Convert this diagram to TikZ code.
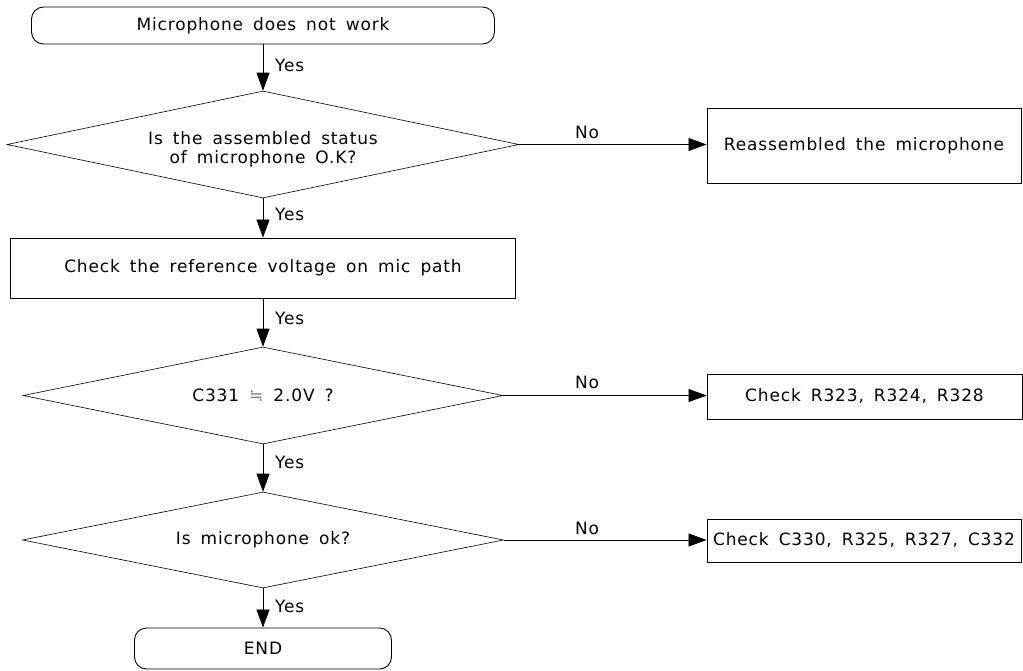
\documentclass[tikz,border=0pt]{standalone}
\usepackage{fontspec}
\setmainfont{DejaVu Sans}[LetterSpace=5,WordSpace=1.6]
\usetikzlibrary{shapes.geometric,arrows.meta}
\begin{document}
\begin{tikzpicture}[x=1pt,y=-1pt,
 every node/.style={font=\fontsize{17}{18}\selectfont},
 box/.style={draw,line width=0.9pt,inner sep=0pt,align=center},
 term/.style={box,rounded corners=12pt},
 dec/.style={draw,line width=0.6pt,shape=diamond,aspect=5,inner sep=0pt,align=center},
 arr/.style={line width=0.8pt,-{Triangle[length=18pt,width=13pt]}},
 lbl/.style={inner sep=0pt}]
\useasboundingbox (0,0) rectangle (1023,670);
\node[term,minimum width=463pt,minimum height=37pt] (start) at (263,25.5) {Microphone does not work};
\node[dec,minimum width=512pt,minimum height=107pt] (d1) at (263,144.5) {\raisebox{-10pt}[0pt][0pt]{\begin{tabular}{@{}c@{}}Is the assembled status\\of microphone O.K?\end{tabular}}};
\node[box,minimum width=314pt,minimum height=75pt] (r1) at (864,145.5) {Reassembled the microphone};
\node[box,minimum width=505pt,minimum height=60pt] (b1) at (263,268) {Check the reference voltage on mic path};
\node[dec,minimum width=480pt,minimum height=97pt] (d2) at (263,395.5) {C331 {\color{gray}≒} 2.0V ?};
\node[box,minimum width=315pt,minimum height=45pt] (r2) at (864.5,396.5) {Check R323, R324, R328};
\node[dec,minimum width=481pt,minimum height=96pt] (d3) at (263,540) {Is microphone ok?};
\node[box,minimum width=314pt,minimum height=43pt] (r3) at (864,540.5) {Check C330, R325, R327, C332};
\node[term,minimum width=257pt,minimum height=41pt] (end) at (263,648.5) {END};

\draw[arr] (start) -- (d1);
\draw[arr] (d1) -- (b1);
\draw[arr] (b1) -- (d2);
\draw[arr] (d2) -- (d3);
\draw[arr] (d3) -- (end);
\draw[arr] (d1.east) -- (d1.east -| r1.west);
\draw[arr] (d2.east) -- (d2.east -| r2.west);
\draw[arr] (d3.east) -- (d3.east -| r3.west);

\node[lbl,anchor=west] (y1) at (275,65) {Yes};
\node[lbl,anchor=west] (y2) at (275,214) {Yes};
\node[lbl,anchor=west] (y3) at (275,318) {Yes};
\node[lbl,anchor=west] (y4) at (275,462) {Yes};
\node[lbl,anchor=west] (y5) at (275,606) {Yes};
\node[lbl] (n1) at (587,132) {No};
\node[lbl] (n2) at (587,382) {No};
\node[lbl] (n3) at (587,528) {No};
\end{tikzpicture}
\end{document}
